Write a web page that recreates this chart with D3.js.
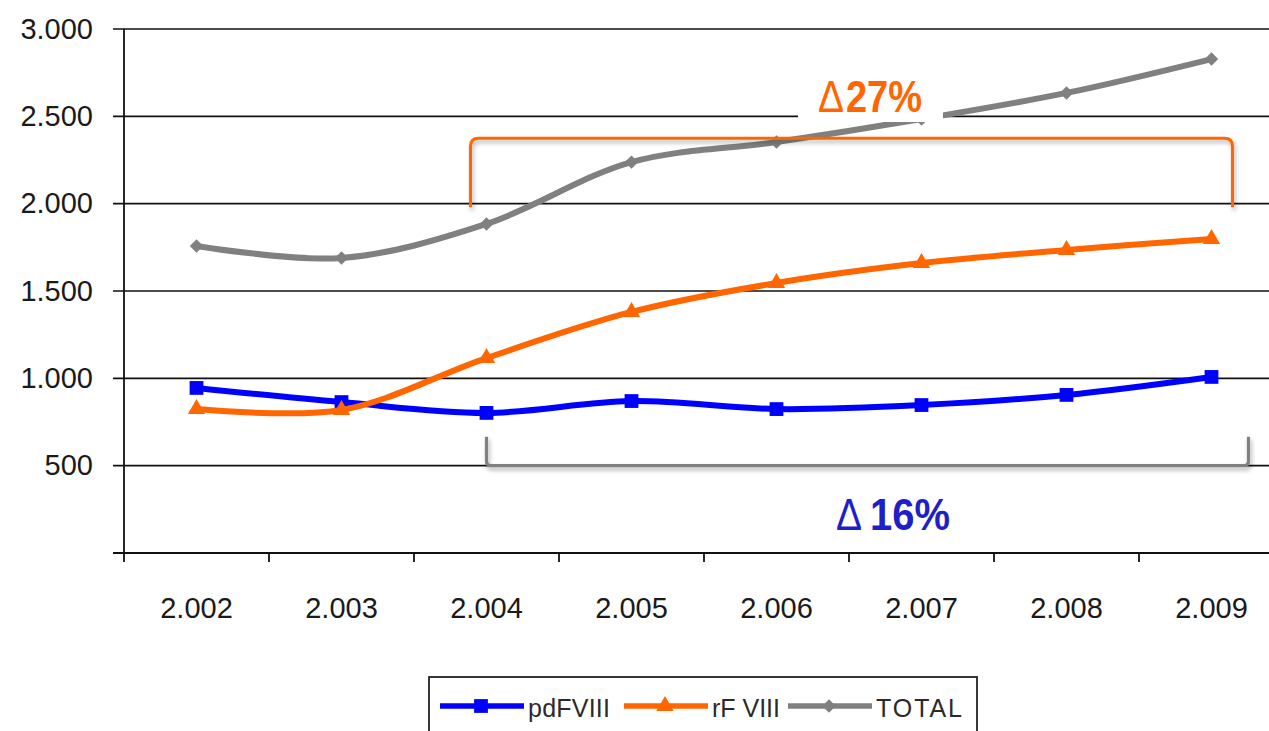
<!DOCTYPE html>
<html>
<head>
<meta charset="utf-8">
<script src="https://cdn.jsdelivr.net/npm/d3@7/dist/d3.min.js"></script>
<style>
  html, body { margin: 0; padding: 0; background: #fff; overflow: hidden; }
  svg { display: block; }
  text { font-family: "Liberation Sans", Arial, sans-serif; }
</style>
</head>
<body>
<svg id="chart" width="1269" height="731"></svg>
<script>
// Annual consumption of factor VIII (thousands of IU), 2002–2009
const years = ["2.002", "2.003", "2.004", "2.005", "2.006", "2.007", "2.008", "2.009"];
const pdFVIII = [945, 864, 802, 870, 824, 847, 905, 1008];
const rFVIII = [824, 819, 1116, 1380, 1546, 1660, 1735, 1798];
const total = [1758, 1689, 1884, 2238, 2353, 2485, 2634, 2828];
const yTicks = [500, 1000, 1500, 2000, 2500, 3000];
const seriesNames = ["pdFVIII", "rF VIII", "TOTAL"];
const seriesColors = ["#0000ff", "#ff6600", "#808080"];
const seriesMarkers = ["square", "triangle", "diamond"];

const svg = d3.select("#chart");

const x = d3.scaleBand().domain(years).range([124, 1284]).padding(0);
const y = d3.scaleLinear().domain([0, 3000]).range([553, 29]);
const cx = d => x(d) + x.bandwidth() / 2;
const fmt = v => d3.format(",")(v).replace(/,/g, ".");

// soft shadow used by the bracket shapes
const defs = svg.append("defs");
defs.append("filter").attr("id", "shade")
  .attr("x", "-5%").attr("y", "-50%").attr("width", "110%").attr("height", "200%")
  .append("feDropShadow")
  .attr("dx", 1.5).attr("dy", 3).attr("stdDeviation", 2)
  .attr("flood-color", "#000").attr("flood-opacity", 0.3);

// horizontal gridlines (they extend left past the axis as tick marks)
svg.append("g").selectAll("line").data(yTicks).join("line")
  .attr("x1", 113).attr("x2", 1284)
  .attr("y1", d => y(d)).attr("y2", d => y(d))
  .attr("stroke", "#111").attr("stroke-width", 1.6);

// value axis
const yAxis = svg.append("g").attr("transform", "translate(124,0)")
  .call(d3.axisLeft(y).tickValues(yTicks).tickFormat(fmt).tickSize(0).tickPadding(31));
yAxis.select(".domain").remove();
yAxis.selectAll("text").attr("font-size", 29).attr("fill", "#1a1a1a")
  .style("font-family", "'Liberation Sans', Arial, sans-serif");
svg.append("line").attr("x1", 124).attr("x2", 124).attr("y1", y(3000)).attr("y2", 562)
  .attr("stroke", "#111").attr("stroke-width", 1.8);

// category axis
svg.append("line").attr("x1", 113).attr("x2", 1284).attr("y1", y(0)).attr("y2", y(0))
  .attr("stroke", "#111").attr("stroke-width", 1.8);
svg.append("g").selectAll("line").data(years.slice(1)).join("line")
  .attr("x1", d => x(d)).attr("x2", d => x(d))
  .attr("y1", y(0)).attr("y2", y(0) + 9)
  .attr("stroke", "#111").attr("stroke-width", 1.8);
const xAxis = svg.append("g").attr("transform", `translate(0,${y(0)})`)
  .call(d3.axisBottom(x).tickSize(0).tickPadding(44));
xAxis.select(".domain").remove();
xAxis.selectAll("text").attr("font-size", 29).attr("fill", "#1a1a1a")
  .style("font-family", "'Liberation Sans', Arial, sans-serif");

// series lines and markers
const seriesData = [pdFVIII, rFVIII, total];
const line = d3.line()
  .x((d, i) => cx(years[i]))
  .y(d => y(d))
  .curve(d3.curveCatmullRom.alpha(0.5));

function markerPath(kind) {
  if (kind === "square") return d3.symbol(d3.symbolSquare, 190)();
  if (kind === "triangle") return d3.symbol(d3.symbolTriangle, 130)();
  return d3.symbol(d3.symbolSquare, 90)();
}
function markerTransform(kind, px, py) {
  return kind === "diamond" ? `translate(${px},${py}) rotate(45)` : `translate(${px},${py})`;
}

seriesData.forEach((vals, s) => {
  const g = svg.append("g");
  g.append("path").datum(vals).attr("d", line)
    .attr("fill", "none").attr("stroke", seriesColors[s]).attr("stroke-width", 6)
    .attr("stroke-linejoin", "round");
  g.selectAll("path.m").data(vals).join("path").attr("class", "m")
    .attr("d", markerPath(seriesMarkers[s]))
    .attr("transform", (d, i) => markerTransform(seriesMarkers[s], cx(years[i]), y(d)))
    .attr("fill", seriesColors[s]);
});

// bracket over the recombinant/total growth period
const r = 8;
const oL = cx("2.004") - 16, oR = cx("2.009") + 21;
const oTop = y(2375), oBot = y(1980);
svg.append("path")
  .attr("d", `M${oL},${oBot} L${oL},${oTop + r} Q${oL},${oTop} ${oL + r},${oTop} L${oR - r},${oTop} Q${oR},${oTop} ${oR},${oTop + r} L${oR},${oBot}`)
  .attr("fill", "none").attr("stroke", "#ff6600").attr("stroke-width", 3)
  .attr("filter", "url(#shade)");

// label box for the upper percentage
svg.append("rect").attr("x", 798).attr("y", 70).attr("width", 145).attr("height", 52)
  .attr("fill", "#fff");
svg.append("text").attr("x", 818).attr("y", 112)
  .attr("font-size", 44).attr("fill", "#ff6600")
  .attr("textLength", 26).attr("lengthAdjust", "spacingAndGlyphs")
  .text("Δ");
svg.append("text").attr("x", 846).attr("y", 112)
  .attr("font-size", 44).attr("font-weight", "bold").attr("fill", "#ff6600")
  .attr("textLength", 76).attr("lengthAdjust", "spacingAndGlyphs")
  .text("27%");

// bracket under the plasma-derived period
const gL = cx("2.004"), gR = cx("2.009") + 37;
const gTop = y(665), gBot = y(500);
const r2 = 5;
svg.append("path")
  .attr("d", `M${gL},${gTop} L${gL},${gBot - r2} Q${gL},${gBot} ${gL + r2},${gBot} L${gR - r2},${gBot} Q${gR},${gBot} ${gR},${gBot - r2} L${gR},${gTop}`)
  .attr("fill", "none").attr("stroke", "#808080").attr("stroke-width", 3.2)
  .attr("filter", "url(#shade)");
svg.append("text").attr("x", 836).attr("y", 530)
  .attr("font-size", 44).attr("fill", "#1f1fc8")
  .attr("textLength", 26).attr("lengthAdjust", "spacingAndGlyphs")
  .text("Δ");
svg.append("text").attr("x", 870).attr("y", 530)
  .attr("font-size", 44).attr("font-weight", "bold").attr("fill", "#1f1fc8")
  .attr("textLength", 80).attr("lengthAdjust", "spacingAndGlyphs")
  .text("16%");

// legend
const legend = svg.append("g");
legend.append("rect").attr("x", 429).attr("y", 677).attr("width", 548).attr("height", 70)
  .attr("fill", "#fff").attr("stroke", "#222").attr("stroke-width", 1.8);
const legendX = [440, 624, 788];
const legendTextW = [82, 68, 86];
seriesNames.forEach((name, s) => {
  const lx = legendX[s];
  legend.append("line").attr("x1", lx).attr("x2", lx + 84).attr("y1", 706).attr("y2", 706)
    .attr("stroke", seriesColors[s]).attr("stroke-width", 5.5);
  legend.append("path").attr("d", markerPath(seriesMarkers[s]))
    .attr("transform", markerTransform(seriesMarkers[s], lx + 41, 706))
    .attr("fill", seriesColors[s]);
  legend.append("text").attr("x", lx + 88).attr("y", 717)
    .attr("font-size", 25).attr("fill", "#2a2a2a")
    .attr("textLength", legendTextW[s]).attr("lengthAdjust", "spacing")
    .text(name);
});
</script>
</body>
</html>
